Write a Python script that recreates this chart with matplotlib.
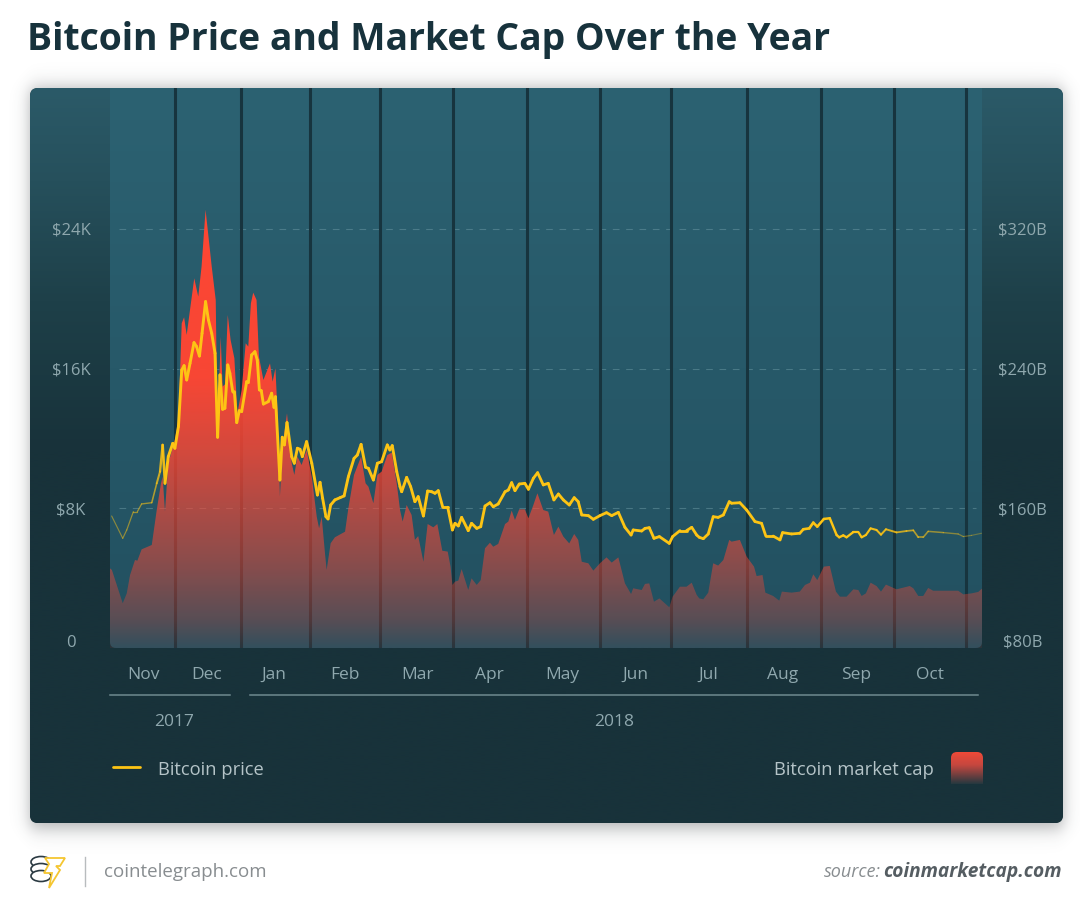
# plot.py - Bitcoin price and market cap over the year

import numpy as np
import matplotlib
matplotlib.use("Agg")
import matplotlib.pyplot as plt
from matplotlib.collections import LineCollection
from matplotlib.colors import to_rgb
from matplotlib.patches import Ellipse, FancyBboxPatch, PathPatch, Polygon
from matplotlib.transforms import ScaledTranslation

plt.rcParams["font.family"] = ["Open Sans", "DejaVu Sans"]

# ------------------------------------------------------------
# Data (days since the start of the window, $K and $B)
# ------------------------------------------------------------

price_days = [
    0.7, 5.4, 7.1, 9.9, 11.6, 13.4, 17.7, 19.8, 21.2, 22.3, 23.3, 24.7, 26.6, 27.5, 29.0, 30.4,
    31.4, 32.5, 33.9, 35.6, 36.7, 37.9, 39.0, 40.5, 41.7, 43.1, 44.5, 45.6, 46.6, 47.7, 48.7, 49.9,
    50.8, 52.0, 52.7, 53.7, 54.8, 55.8, 57.9, 58.6, 60.0, 61.4, 62.4, 63.3, 64.1, 65.0, 67.1, 68.5,
    69.5, 70.1, 72.0, 73.0, 73.9, 75.0, 77.0, 78.1, 79.4, 80.5, 81.5, 83.3, 85.5, 87.9, 89.0, 90.1,
    91.5, 92.4, 93.5, 95.3, 97.5, 99.2, 101.0, 103.4, 104.8, 106.4, 108.3, 109.5, 111.6, 113.3, 115.1, 117.5,
    118.6, 119.6, 121.5, 122.9, 123.6, 125.7, 127.4, 129.2, 130.6, 132.8, 134.6, 136.3, 137.7, 139.1, 141.0, 143.1,
    145.1, 146.2, 147.6, 149.0, 151.8, 153.2, 155.4, 157.1, 158.9, 161.0, 162.4, 164.5, 167.4, 168.8, 170.2, 171.6,
    173.4, 175.8, 177.3, 179.4, 181.2, 183.6, 185.7, 188.1, 190.0, 192.1, 194.6, 196.7, 198.4, 199.9, 202.7, 204.8,
    207.6, 210.4, 212.6, 215.4, 218.2, 220.8, 221.7, 225.3, 226.7, 228.5, 230.5, 232.8, 237.0, 238.4, 241.5, 244.3,
    246.5, 248.6, 249.7, 251.4, 253.5, 255.6, 257.7, 259.9, 262.4, 263.4, 266.9, 269.8, 273.3, 276.1, 277.9, 281.0,
    283.9, 285.0, 288.8, 292.3, 293.8, 296.3, 298.0, 299.7, 302.5, 305.0, 307.9, 309.0, 310.7, 312.1, 315.0, 317.1,
    318.5, 320.3, 322.3, 324.8, 326.7, 328.8, 333.3, 337.5, 340.4, 342.5, 344.6, 346.7, 353.1, 359.4, 361.6, 365.1,
    369.3,
]
price_values = [
    7.56, 6.28, 6.76, 7.81, 7.81, 8.25, 8.32, 9.43, 10.10, 11.63, 9.43, 10.96, 11.72, 11.44, 12.68, 15.92,
    16.17, 15.35, 16.30, 17.49, 17.26, 16.72, 18.02, 19.84, 18.79, 18.02, 16.88, 12.07, 15.64, 13.67, 13.73, 16.21,
    15.73, 14.68, 14.68, 12.91, 13.59, 13.54, 15.25, 15.20, 16.78, 16.97, 16.49, 14.78, 14.74, 13.97, 14.11, 14.59,
    13.78, 14.39, 9.62, 12.07, 11.63, 12.91, 10.96, 10.58, 11.44, 11.38, 10.96, 11.82, 10.58, 8.76, 9.49, 8.57,
    7.52, 7.39, 8.19, 8.48, 8.61, 8.71, 9.81, 10.86, 11.05, 11.66, 10.35, 10.29, 9.62, 10.58, 10.67, 11.63,
    11.34, 11.59, 10.10, 9.24, 8.95, 9.77, 9.24, 8.38, 8.67, 7.56, 8.99, 8.95, 8.86, 9.01, 8.06, 8.06,
    6.76, 7.14, 6.99, 7.48, 6.72, 7.14, 6.85, 6.95, 8.13, 8.32, 8.09, 8.25, 8.95, 9.05, 9.47, 9.01,
    9.39, 9.43, 9.09, 9.72, 10.04, 9.34, 9.43, 8.48, 8.82, 8.48, 8.19, 8.61, 8.38, 7.62, 7.58, 7.37,
    7.58, 7.75, 7.58, 7.77, 6.91, 6.47, 6.76, 6.70, 6.85, 6.89, 6.28, 6.38, 5.99, 6.38, 6.72, 6.72,
    6.91, 6.47, 6.34, 6.26, 6.53, 7.52, 7.48, 7.62, 8.38, 8.29, 8.32, 7.90, 7.24, 7.14, 6.41, 6.41,
    6.19, 6.61, 6.53, 6.57, 6.80, 6.85, 7.18, 6.95, 7.39, 7.43, 6.47, 6.34, 6.45, 6.34, 6.64, 6.64,
    6.34, 6.47, 6.85, 6.76, 6.49, 6.80, 6.62, 6.70, 6.74, 6.34, 6.34, 6.68, 6.61, 6.53, 6.38, 6.45,
    6.57,
]

cap_days = [
    0.0, 0.8, 5.4, 7.1, 8.5, 10.6, 11.6, 13.4, 17.7, 19.8, 21.6, 22.3, 23.3, 24.7, 27.5, 29.0,
    30.4, 31.4, 32.5, 33.9, 35.7, 37.4, 38.8, 40.5, 43.1, 44.8, 45.6, 46.9, 47.7, 48.7, 49.9, 51.1,
    52.7, 54.0, 55.8, 57.5, 58.6, 59.7, 60.7, 62.1, 63.1, 65.0, 67.8, 68.9, 70.1, 71.0, 72.0, 73.0,
    73.9, 75.0, 77.0, 78.1, 79.4, 81.2, 83.3, 85.5, 87.6, 88.6, 89.7, 91.1, 91.8, 93.5, 95.3, 99.6,
    101.0, 103.4, 106.4, 108.3, 109.5, 111.6, 113.3, 115.1, 117.5, 119.4, 121.5, 122.9, 124.0, 125.7, 127.8, 129.2,
    130.6, 132.8, 134.6, 137.0, 138.7, 140.8, 143.1, 144.3, 145.1, 146.2, 147.6, 149.0, 151.8, 153.2, 155.4, 157.1,
    158.9, 161.0, 162.4, 164.5, 167.4, 168.8, 170.2, 171.6, 173.4, 175.8, 177.3, 179.4, 181.1, 183.6, 185.7, 188.1,
    190.0, 192.1, 194.6, 196.7, 198.4, 199.9, 202.7, 204.8, 207.6, 210.4, 212.6, 215.4, 218.2, 220.8, 221.7, 225.3,
    226.7, 228.5, 230.5, 232.8, 237.0, 238.4, 241.5, 244.3, 246.5, 248.6, 249.7, 251.4, 253.5, 255.6, 257.7, 259.9,
    262.4, 263.4, 266.9, 269.8, 272.9, 274.0, 276.5, 277.7, 281.0, 283.6, 284.7, 288.8, 292.3, 294.5, 296.6, 298.0,
    299.7, 302.5, 305.0, 307.6, 309.3, 312.1, 315.0, 317.1, 318.5, 320.3, 322.3, 324.8, 326.7, 328.8, 333.3, 338.9,
    340.4, 342.5, 344.6, 346.7, 348.8, 359.4, 361.6, 365.1, 367.9, 369.5,
]
cap_values = [
    125.6, 124.7, 105.6, 111.3, 121.8, 130.4, 130.0, 136.5, 139.0, 159.0, 174.3, 178.1, 158.1, 185.8, 199.1, 210.6,
    266.0, 269.4, 259.3, 273.6, 291.7, 281.2, 298.4, 330.9, 298.4, 279.3, 200.7, 258.3, 229.7, 231.0, 270.7, 256.4,
    245.9, 214.4, 227.8, 254.5, 252.6, 277.4, 283.5, 279.3, 246.9, 233.5, 243.0, 232.5, 240.2, 214.4, 166.7, 191.5,
    202.9, 214.4, 185.8, 179.1, 189.6, 184.8, 193.4, 178.1, 155.2, 148.5, 155.2, 134.2, 124.7, 140.0, 143.4, 146.6,
    160.0, 179.1, 189.6, 174.3, 172.4, 162.9, 179.1, 181.0, 190.5, 191.9, 174.3, 159.0, 152.4, 161.9, 156.2, 141.9,
    144.1, 129.4, 151.0, 149.1, 151.0, 135.7, 135.2, 126.6, 116.1, 118.0, 118.6, 125.2, 113.2, 119.9, 116.1, 118.9,
    137.1, 140.3, 138.0, 139.6, 151.0, 152.4, 158.7, 153.3, 159.4, 159.4, 154.3, 161.9, 168.6, 159.0, 158.1, 144.7,
    149.5, 143.8, 139.9, 145.3, 141.9, 129.4, 128.5, 124.3, 128.5, 131.9, 128.9, 131.9, 117.0, 110.9, 114.2, 113.2,
    116.7, 117.0, 106.5, 108.4, 103.3, 109.4, 115.1, 115.1, 117.4, 110.4, 108.4, 107.9, 111.7, 128.5, 127.2, 130.4,
    141.9, 140.9, 141.9, 132.3, 126.6, 121.2, 121.8, 111.7, 109.8, 107.1, 112.3, 111.7, 112.3, 116.1, 117.4, 122.2,
    118.9, 126.6, 127.0, 112.3, 109.4, 109.4, 113.6, 113.2, 109.8, 111.3, 117.4, 115.5, 112.3, 116.3, 113.6, 115.5,
    114.2, 109.8, 109.8, 114.4, 112.8, 112.8, 110.7, 111.3, 112.1, 114.0,
]

month_starts = [27.5, 55.5, 84.7, 114.4, 145.3, 176.7, 207.6, 237.7, 269.9, 301.3, 332.2, 362.7]
month_centers = [14.0, 41.1, 69.5, 99.6, 130.1, 160.6, 191.5, 222.5, 253.4, 285.2, 316.1, 347.5]
month_labels = ["Nov", "Dec", "Jan", "Feb", "Mar", "Apr", "May", "Jun", "Jul", "Aug", "Sep", "Oct"]
price_ticks = [0, 8, 16, 24]
price_tick_labels = ["0", "$8K", "$16K", "$24K"]
cap_ticks = [80, 160, 240, 320]
cap_tick_labels = ["$80B", "$160B", "$240B", "$320B"]

# ------------------------------------------------------------
# Figure and helpers
# ------------------------------------------------------------

W, H = 1080, 907
DARK = "#18323a"
TEXT = "#8fa8ae"
YELLOW = "#fdc414"

fig = plt.figure(figsize=(W / 100, H / 100), dpi=100, facecolor="white")

# pixel-coordinate layer for the card, shadow, legend and footer
bg = fig.add_axes([0, 0, 1, 1], zorder=0)
bg.set_xlim(0, W)
bg.set_ylim(H, 0)
bg.axis("off")


def rounded(x0, y0, x1, y1, r, **kw):
    return FancyBboxPatch((x0 + r, y0 + r), x1 - x0 - 2 * r, y1 - y0 - 2 * r,
                          boxstyle=f"round,pad={r},rounding_size={r}", **kw)


def vgrad(axis, x0, y0, x1, y1, ys, colors, clip):
    # vertical gradient image, clipped to a patch
    yy = np.linspace(y0, y1, 256)
    rgb = np.array([to_rgb(c) for c in colors])
    img = np.ones((256, 1, 4))
    for i in range(3):
        img[:, 0, i] = np.interp(yy, ys, rgb[:, i])
    im = axis.imshow(img, extent=(x0, x1, y1, y0), aspect="auto", zorder=2, interpolation="bilinear")
    im.set_clip_path(clip)
    return im


# soft shadow under the card
sx = np.arange(W) + 0.5
sy = np.arange(H) + 0.5
edge_x = 0.5 * (np.tanh((sx - 30) / 9) - np.tanh((sx - 1063) / 9))
edge_y = 0.5 * (np.tanh((sy - 88) / 11) - np.tanh((sy - 828) / 11))
shadow = np.zeros((H, W, 4))
shadow[..., :3] = to_rgb("#3c4144")
shadow[..., 3] = 0.42 * np.outer(edge_y, edge_x)
bg.imshow(shadow, extent=(0, W, H, 0), aspect="auto", zorder=1)

card = rounded(30, 88, 1063, 823, 8, fc=DARK, ec="none", zorder=1.5)
bg.add_patch(card)
vgrad(bg, 30, 88, 1063, 823, [88, 180, 300, 450, 823],
      ["#2b5a68", "#26505c", "#1e4049", "#18323a", "#18323a"], card)

plot_box = rounded(110, 70, 982, 648, 6, fc="none", ec="none", zorder=1.5)
bg.add_patch(plot_box)
vgrad(bg, 110, 88, 982, 648, [88, 648], ["#2c6272", "#225060"], plot_box)

bg.set_xlim(0, W)
bg.set_ylim(H, 0)

# ------------------------------------------------------------
# Chart axes
# ------------------------------------------------------------

ax_rect = [110 / W, 1 - 648 / H, 872 / W, 560 / H]
ax = fig.add_axes(ax_rect, zorder=3)
ax_cap = ax.twinx()
ax.set_zorder(3)
ax_cap.set_zorder(2)
ax.patch.set_visible(False)
ax_cap.patch.set_visible(False)

ax.set_xlim(0, 369.5)
ax.set_ylim(0, 32.07)
ax_cap.set_ylim(80, 400.7)

for a in (ax, ax_cap):
    for s in a.spines.values():
        s.set_visible(False)

# grid and month separators
ax_cap.hlines(cap_ticks[1:], 4, 367, colors="#6d9aa5", linewidth=0.8, linestyles=(0, (6, 6)), alpha=0.5, zorder=1)
for d in month_starts:
    ax_cap.axvline(d, color="#17343e", linewidth=2.2, zorder=1.2)

# market cap area with a fading red gradient
area = ax_cap.fill_between(cap_days, cap_values, 80, color="none", linewidth=0, zorder=2)
clip = PathPatch(area.get_paths()[0], transform=ax_cap.transData, fc="none", ec="none")
ax_cap.add_patch(clip)
stops = [80, 96, 130, 165, 192, 235, 331]
alpha_stops = [0.08, 0.25, 0.48, 0.66, 0.80, 0.97, 1.0]
yy = np.linspace(80, 331, 256)
img = np.ones((256, 1, 4))
img[:, 0, 0] = 1.0
img[:, 0, 1] = 0.275
img[:, 0, 2] = 0.20
img[:, 0, 3] = np.interp(yy, stops, alpha_stops)
im = ax_cap.imshow(img, extent=(0, 369.5, 80, 331), origin="lower", aspect="auto", zorder=2, interpolation="bilinear")
im.set_clip_path(clip)
ax_cap.set_xlim(0, 369.5)
ax_cap.set_ylim(80, 400.7)

# price line: thin and dim at both ends, full weight in the middle
px = np.array(price_days)
py = np.array(price_values)
segs = np.stack([np.column_stack([px[:-1], py[:-1]]), np.column_stack([px[1:], py[1:]])], axis=1)
mid = 0.5 * (px[:-1] + px[1:])
widths = np.interp(mid, [0, 18, 24, 290, 330, 369], [0.8, 1.0, 2.1, 2.0, 1.4, 0.8])
alphas = np.interp(mid, [0, 18, 24, 320, 345, 369], [0.45, 0.6, 1.0, 1.0, 0.6, 0.3])
seg_colors = [(*to_rgb(YELLOW), a) for a in alphas]
ax.add_collection(LineCollection(segs, linewidths=widths, colors=seg_colors, capstyle="round", joinstyle="round", zorder=4))

# ticks
ax.set_xticks(month_centers)
ax.set_xticklabels(month_labels, fontsize=12.5, color=TEXT)
ax.tick_params(axis="x", length=0, pad=13.5)
ax.set_yticks(price_ticks)
ax.set_yticklabels(price_tick_labels, fontsize=12, color=TEXT, ha="center")
ax.tick_params(axis="y", length=0, pad=28)
ax_cap.set_yticks(cap_ticks)
ax_cap.set_yticklabels(cap_tick_labels, fontsize=12, color=TEXT, ha="center")
ax_cap.tick_params(axis="y", length=0, pad=29)

# the two baseline labels sit a little above the baseline
lift = ScaledTranslation(0, 7 / 100, fig.dpi_scale_trans)
for lab in (ax.get_yticklabels()[0], ax_cap.get_yticklabels()[0]):
    lab.set_transform(lab.get_transform() + lift)

# ------------------------------------------------------------
# Year brackets, legend, title and footer (pixel layer on top)
# ------------------------------------------------------------

top = fig.add_axes([0, 0, 1, 1], zorder=4)
top.set_xlim(0, W)
top.set_ylim(H, 0)
top.axis("off")

top.plot([110, 230], [695, 695], color="#6f8a90", lw=1.1)
top.plot([250, 978], [695, 695], color="#6f8a90", lw=1.1)
top.text(174, 722, "2017", fontsize=12.5, color=TEXT, ha="center", va="center")
top.text(614, 722, "2018", fontsize=12.5, color=TEXT, ha="center", va="center")

top.plot([113, 140], [767, 767], color=YELLOW, lw=2.0, solid_capstyle="round")
top.text(158, 770, "Bitcoin price", fontsize=13.2, color="#b5c4c8", ha="left", va="center")
top.text(934, 770, "Bitcoin market cap", fontsize=13.2, color="#b5c4c8", ha="right", va="center")
swatch = rounded(951, 752, 983, 790, 6, fc="none", ec="none")
top.add_patch(swatch)
vgrad(top, 951, 752, 983, 784, [752, 765, 784], ["#f04a38", "#c5473f", "#24383f"], swatch)

top.text(27, 40, "Bitcoin Price and Market Cap Over the Year", fontsize=26.95, fontweight="bold",
         color="#17323c", ha="left", va="center")

# logo: coin stack and bolt
for cy in [862, 869, 876]:
    top.add_patch(Ellipse((41, cy), 20, 11, fc="white", ec="#2b3a42", lw=1.2, zorder=3))
bolt_x = [45, 65, 60, 56, 60, 49, 52, 44, 49]
bolt_y = [858, 858, 866, 866, 870, 888, 873, 873, 864]
top.add_patch(Polygon(np.column_stack([bolt_x, bolt_y]), closed=True, fc="white", ec="#f5c631", lw=1.3, zorder=4))
top.plot([85, 85], [857, 886], color="#b8bcbe", lw=1)
top.text(104, 872, "cointelegraph.com", fontsize=13.5, color="#888d90", ha="left", va="center")
top.text(1062, 872, "coinmarketcap.com", fontsize=13.8, color="#555d62", ha="right", va="center",
         fontweight="bold", style="italic")
top.text(881, 872, "source:", fontsize=13, color="#888d90", ha="right", va="center", style="italic")
top.set_xlim(0, W)
top.set_ylim(H, 0)

fig.savefig("out.png", dpi=100, facecolor="white")
